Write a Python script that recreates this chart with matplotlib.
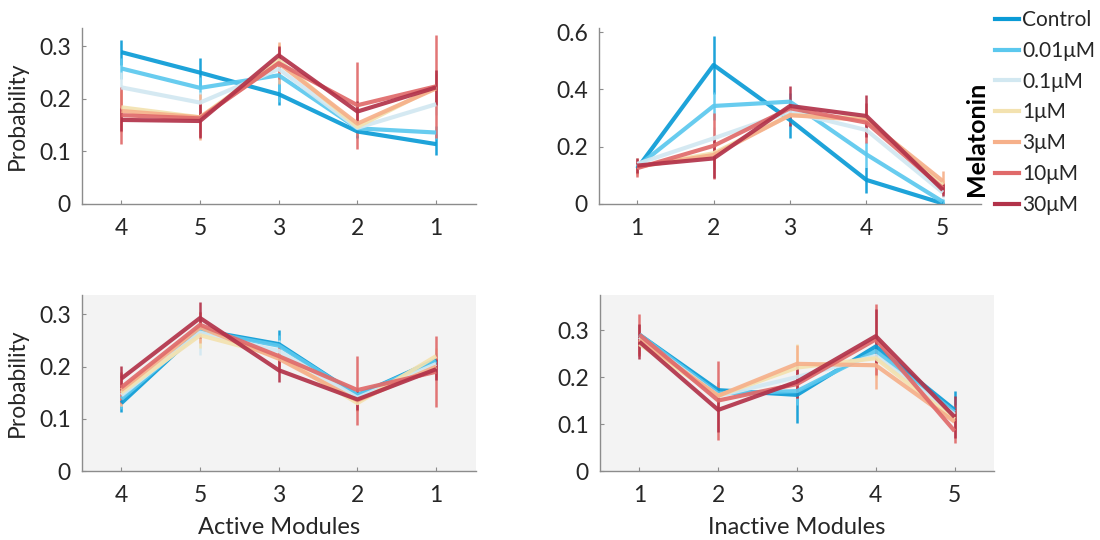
import matplotlib
matplotlib.use("Agg")
import matplotlib.pyplot as plt
from matplotlib.lines import Line2D
import numpy as np

plt.rcParams['font.family'] = ['Lato', 'DejaVu Sans']

# Melatonin treatment groups
groups = ["Control", "0.01\u03bcM", "0.1\u03bcM", "1\u03bcM", "3\u03bcM", "10\u03bcM", "30\u03bcM"]
colors = ["#0A9BD6", "#5BC8EE", "#D2E8F1", "#F3E2B0", "#F6B08A", "#E06A6A", "#B2334A"]

active_order = ["4", "5", "3", "2", "1"]
inactive_order = ["1", "2", "3", "4", "5"]

# Top row: probability by module (white panels)
top_active = [
    [0.289, 0.250, 0.209, 0.138, 0.114],
    [0.258, 0.221, 0.245, 0.144, 0.136],
    [0.222, 0.193, 0.257, 0.145, 0.190],
    [0.184, 0.165, 0.274, 0.147, 0.223],
    [0.177, 0.165, 0.268, 0.153, 0.220],
    [0.169, 0.163, 0.268, 0.188, 0.224],
    [0.160, 0.158, 0.283, 0.176, 0.222],
]
top_active_err = [
    [0.024, 0.027, 0.021, 0.012, 0.020],
    [0.020, 0.020, 0.050, 0.010, 0.012],
    [0.030, 0.020, 0.020, 0.010, 0.020],
    [0.030, 0.030, 0.030, 0.015, 0.030],
    [0.040, 0.044, 0.040, 0.020, 0.030],
    [0.054, 0.035, 0.030, 0.083, 0.098],
    [0.022, 0.032, 0.017, 0.020, 0.034],
]
top_inactive = [
    [0.124, 0.485, 0.293, 0.084, 0.002],
    [0.130, 0.342, 0.357, 0.173, 0.008],
    [0.140, 0.229, 0.322, 0.258, 0.040],
    [0.130, 0.177, 0.310, 0.299, 0.065],
    [0.130, 0.171, 0.310, 0.293, 0.080],
    [0.125, 0.203, 0.334, 0.284, 0.055],
    [0.134, 0.159, 0.342, 0.307, 0.049],
]
top_inactive_err = [
    [0.015, 0.100, 0.064, 0.045, 0.005],
    [0.020, 0.050, 0.030, 0.045, 0.010],
    [0.020, 0.040, 0.030, 0.040, 0.020],
    [0.020, 0.040, 0.030, 0.030, 0.020],
    [0.030, 0.050, 0.030, 0.040, 0.035],
    [0.030, 0.116, 0.030, 0.070, 0.020],
    [0.025, 0.070, 0.070, 0.073, 0.020],
]

# Bottom row: probability by module (grey panels)
bottom_active = [
    [0.130, 0.270, 0.243, 0.145, 0.213],
    [0.138, 0.268, 0.240, 0.145, 0.210],
    [0.145, 0.265, 0.230, 0.140, 0.205],
    [0.150, 0.260, 0.220, 0.130, 0.220],
    [0.155, 0.275, 0.215, 0.135, 0.200],
    [0.160, 0.280, 0.220, 0.155, 0.190],
    [0.177, 0.293, 0.193, 0.137, 0.195],
]
bottom_active_err = [
    [0.017, 0.010, 0.027, 0.010, 0.010],
    [0.020, 0.020, 0.020, 0.010, 0.015],
    [0.020, 0.042, 0.020, 0.015, 0.015],
    [0.020, 0.025, 0.020, 0.015, 0.015],
    [0.030, 0.030, 0.025, 0.020, 0.020],
    [0.030, 0.025, 0.020, 0.066, 0.068],
    [0.024, 0.030, 0.023, 0.020, 0.020],
]
bottom_inactive = [
    [0.290, 0.172, 0.162, 0.265, 0.130],
    [0.290, 0.165, 0.170, 0.255, 0.125],
    [0.285, 0.160, 0.200, 0.245, 0.120],
    [0.270, 0.160, 0.220, 0.240, 0.110],
    [0.280, 0.160, 0.228, 0.225, 0.105],
    [0.290, 0.150, 0.185, 0.280, 0.085],
    [0.275, 0.130, 0.190, 0.287, 0.115],
]
bottom_inactive_err = [
    [0.020, 0.015, 0.060, 0.020, 0.040],
    [0.020, 0.020, 0.030, 0.020, 0.030],
    [0.020, 0.020, 0.030, 0.020, 0.020],
    [0.020, 0.030, 0.050, 0.040, 0.020],
    [0.030, 0.030, 0.040, 0.050, 0.020],
    [0.045, 0.083, 0.030, 0.075, 0.026],
    [0.037, 0.046, 0.035, 0.057, 0.045],
]

TICK_COLOR = "#262626"
SPINE_COLOR = "#8C8C8C"

fig = plt.figure(figsize=(11, 5.4), dpi=100)

W, H = 1100.0, 540.0
def box(l, r, t, b):
    return [l / W, 1 - b / H, (r - l) / W, (b - t) / H]

ax_tl = fig.add_axes(box(82, 475.5, 28, 204))
ax_tr = fig.add_axes(box(599, 981, 28, 204))
ax_bl = fig.add_axes(box(82, 475.5, 295, 471))
ax_br = fig.add_axes(box(600, 994, 295, 471))

panels = [
    (ax_tl, active_order, top_active, top_active_err, 0.335, [0, 0.1, 0.2, 0.3], "white"),
    (ax_tr, inactive_order, top_inactive, top_inactive_err, 0.614, [0, 0.2, 0.4, 0.6], "white"),
    (ax_bl, active_order, bottom_active, bottom_active_err, 0.337, [0, 0.1, 0.2, 0.3], "#F3F3F3"),
    (ax_br, inactive_order, bottom_inactive, bottom_inactive_err, 0.3745, [0, 0.1, 0.2, 0.3], "#F3F3F3"),
]

LW = 3.0
for ax, order, vals, errs, ytop, yticks, bg in panels:
    ax.set_facecolor(bg)
    x = np.arange(1, len(order) + 1)
    for g, c, v, e in zip(groups, colors, vals, errs):
        ax.errorbar(x, v, yerr=e, color=c, lw=LW, elinewidth=1.8, capsize=0,
                    alpha=0.92, label=g, solid_capstyle='butt')
    ax.set_xlim(0.5, 5.5)
    ax.set_ylim(0, ytop)
    ax.set_xticks(x)
    ax.set_xticklabels(order)
    ax.set_yticks(yticks)
    ax.set_yticklabels(["0" if t == 0 else f"{t:g}" for t in yticks])
    for s in ["top", "right"]:
        ax.spines[s].set_visible(False)
    for s in ["left", "bottom"]:
        ax.spines[s].set_color(SPINE_COLOR)
        ax.spines[s].set_linewidth(1.0)
    ax.tick_params(direction="in", length=3, width=0.8, color=SPINE_COLOR,
                   labelsize=16.5, labelcolor=TICK_COLOR)
    ax.tick_params(axis="x", pad=10)
    ax.tick_params(axis="y", pad=8)

ax_tl.set_ylabel("Probability", fontsize=16.5, color=TICK_COLOR, labelpad=8)
ax_bl.set_ylabel("Probability", fontsize=16.5, color=TICK_COLOR, labelpad=8)
ax_bl.set_xlabel("Active Modules", fontsize=17, color=TICK_COLOR, labelpad=8)
ax_br.set_xlabel("Inactive Modules", fontsize=17, color=TICK_COLOR, labelpad=8)

handles = [Line2D([], [], color=c, lw=LW) for c in colors]
leg = fig.legend(handles, groups, loc="upper left", bbox_to_anchor=(995 / W, 1 - 10 / H),
                 frameon=False, fontsize=15, handlelength=1.15, handletextpad=0.15,
                 labelspacing=0.52, borderpad=0, borderaxespad=0)
for t in leg.get_texts():
    t.set_color(TICK_COLOR)

fig.text(977 / W, 1 - 139 / H, "Melatonin", rotation=90, fontsize=18,
         fontweight="bold", ha="center", va="center", color="black")

fig.savefig("out.png", dpi=100)
